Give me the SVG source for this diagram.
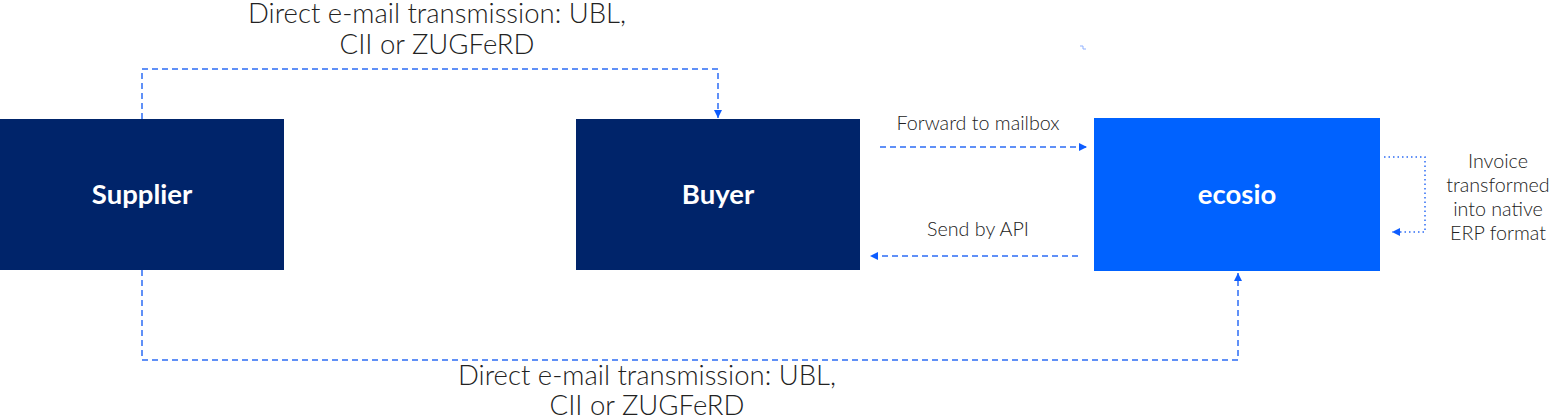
<svg xmlns="http://www.w3.org/2000/svg" width="1550" height="418" viewBox="0 0 1550 418">
<defs>
<style>
.node{fill:#00246A}
.eco{fill:#0062FF}
.nt{font-family:Lato,"Liberation Sans",sans-serif;font-weight:700;font-size:27.5px;fill:#fff;text-anchor:middle}
.lbl{font-family:Lato,"Liberation Sans",sans-serif;font-weight:300;fill:#222;text-anchor:middle}
.big{font-size:27.5px}
.sm{font-size:19.7px}
.dash{fill:none;stroke:#2D6CF5;stroke-width:1.5;stroke-dasharray:6 4}
.dot{fill:none;stroke:#2D6CF5;stroke-width:1.5;stroke-dasharray:1.5 3}
</style>
<marker id="ah" viewBox="0 0 10 10" refX="10" refY="5" markerWidth="8" markerHeight="8" markerUnits="userSpaceOnUse" orient="auto">
<path d="M0,0 L10,5 L0,10 z" fill="#0D5CFF"/>
</marker>
</defs>
<rect width="1550" height="418" fill="#fff"/>
<g id="connectors">
<path class="dash" d="M142,119 V69 H718 V118" marker-end="url(#ah)"/>
<path class="dash" d="M880,147 H1087" marker-end="url(#ah)"/>
<path class="dash" d="M1078,256 H870" marker-end="url(#ah)"/>
<path class="dot" d="M1384,157 H1425 V232 H1392" marker-end="url(#ah)"/>
<path class="dash" d="M142,270 V360 H1238 V273" marker-end="url(#ah)"/>
<path d="M1080,46 H1083 V49 H1086" fill="none" stroke="#8FB0FF" stroke-width="1"/>
</g>
<g id="labels">
<text class="lbl big" x="437" y="23">Direct e-mail transmission: UBL,</text>
<text class="lbl big" x="437" y="54">CII or ZUGFeRD</text>
<text class="lbl sm" x="978" y="130">Forward to mailbox</text>
<text class="lbl sm" x="978" y="236">Send by API</text>
<text class="lbl sm" x="1498" y="168">Invoice</text>
<text class="lbl sm" x="1498" y="192">transformed</text>
<text class="lbl sm" x="1498" y="216">into native</text>
<text class="lbl sm" x="1498" y="240">ERP format</text>
<text class="lbl big" x="647" y="385">Direct e-mail transmission: UBL,</text>
<text class="lbl big" x="647" y="415">CII or ZUGFeRD</text>
</g>
<g id="supplier">
<rect class="node" x="0" y="119" width="284" height="151"/>
<text class="nt" x="142" y="204">Supplier</text>
</g>
<g id="buyer">
<rect class="node" x="576" y="119" width="284" height="151"/>
<text class="nt" x="718" y="204">Buyer</text>
</g>
<g id="ecosio">
<rect class="eco" x="1094" y="118" width="286" height="153"/>
<text class="nt" x="1237" y="204">ecosio</text>
</g>
</svg>
